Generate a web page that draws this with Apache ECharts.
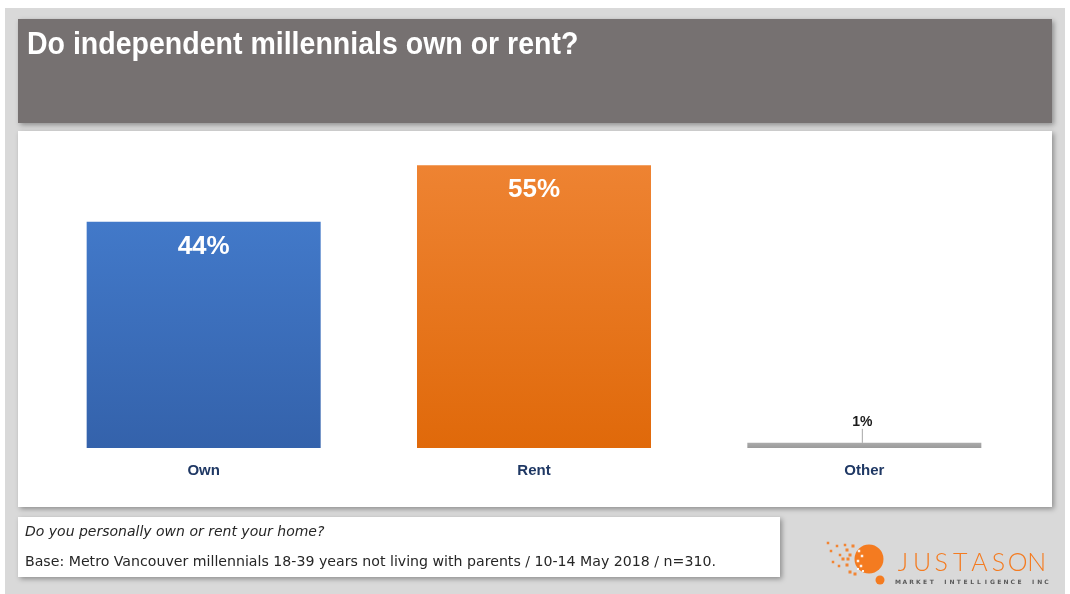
<!DOCTYPE html>
<html>
<head>
<meta charset="utf-8">
<script src="https://cdn.jsdelivr.net/npm/echarts@6/dist/echarts.min.js"></script>
<style>
  html, body { margin: 0; padding: 0; background: #ffffff; }
  #chart { width: 1070px; height: 594px; }
</style>
</head>
<body>
<div id="chart"></div>
<script>
// Survey results: share of independent millennials who own vs. rent
const categories = ['Own', 'Rent', 'Other'];
const shares = [44, 55, 1];
const valueLabels = ['44%', '55%', '1%'];

const titleText = 'Do independent millennials own or rent?';
const questionText = 'Do you personally own or rent your home?';
const baseText = 'Base: Metro Vancouver millennials 18-39 years not living with parents / 10-14 May 2018 / n=310.';
const brandName = 'JUSTASON';
const brandTagline = 'MARKET INTELLIGENCE INC';

const chart = echarts.init(document.getElementById('chart'), null, { renderer: 'canvas' });

const barFills = [
  new echarts.graphic.LinearGradient(0, 0, 0, 1, [
    { offset: 0, color: '#4279c9' }, { offset: 1, color: '#3462ab' }
  ]),
  new echarts.graphic.LinearGradient(0, 0, 0, 1, [
    { offset: 0, color: '#ee8332' }, { offset: 1, color: '#e0690a' }
  ]),
  new echarts.graphic.LinearGradient(0, 0, 0, 1, [
    { offset: 0, color: '#ababab' }, { offset: 1, color: '#9a9a9a' }
  ])
];

const panelShadow = {
  shadowBlur: 5,
  shadowOffsetX: 2,
  shadowOffsetY: 2,
  shadowColor: 'rgba(0,0,0,0.35)'
};

const brandOrange = '#f47b20';

// Logo pixel cloud dissolving into the disc: [x, y, size, colour]
const logoDots = [
  [828, 543, 2.5, brandOrange], [837, 546, 2.5, brandOrange], [845, 545, 2.5, brandOrange], [853, 546, 3, brandOrange],
  [831, 551, 2.5, brandOrange], [840, 555, 2.5, brandOrange], [847, 550, 3, brandOrange], [850, 555, 3, brandOrange],
  [833, 562, 2.5, brandOrange], [843, 559, 3, brandOrange], [848, 559, 3, brandOrange], [839, 566, 2.5, brandOrange],
  [847, 565, 3, brandOrange], [850, 572, 3, brandOrange], [855, 574, 3, brandOrange],
  // light squares cut into the disc edge
  [859, 551, 2.5, '#ffffff'], [862, 556, 2.5, '#ffffff'], [858, 561, 2.5, '#ffffff'],
  [861, 566, 2.5, '#ffffff'], [858, 569, 2, '#ffffff'], [863, 571, 2, '#ffffff']
];

const graphics = [
  // slide background
  { type: 'rect', z: -10, shape: { x: 5, y: 8, width: 1060, height: 590 }, style: { fill: '#d9d9d9' }, silent: true },
  // title banner
  { type: 'rect', z: -5, shape: { x: 18, y: 19, width: 1034, height: 104 }, style: Object.assign({ fill: '#767171' }, panelShadow), silent: true },
  { type: 'text', z: 5, x: 27, y: 30, scaleX: 0.92, style: { text: titleText, fill: '#ffffff', verticalAlign: 'top', font: 'bold 31px "Liberation Sans", Arial, sans-serif' } },
  // chart panel
  { type: 'rect', z: -5, shape: { x: 18, y: 131, width: 1034, height: 376 }, style: Object.assign({ fill: '#ffffff' }, panelShadow), silent: true },
  // footnote panel
  { type: 'rect', z: -5, shape: { x: 18, y: 517, width: 762, height: 60 }, style: Object.assign({ fill: '#ffffff' }, panelShadow), silent: true },
  { type: 'text', z: 5, x: 25, y: 532, style: { text: questionText, fill: '#262626', verticalAlign: 'middle', font: 'italic 14px "DejaVu Sans", sans-serif' } },
  { type: 'text', z: 5, x: 25, y: 562, style: { text: baseText, fill: '#262626', verticalAlign: 'middle', font: '14.15px "DejaVu Sans", sans-serif' } },
  // logo disc
  { type: 'circle', z: 4, shape: { cx: 869, cy: 559, r: 14.5 }, style: { fill: brandOrange } },
  { type: 'circle', z: 4, shape: { cx: 880, cy: 580, r: 4.5 }, style: { fill: brandOrange } }
];

logoDots.forEach(function (d) {
  graphics.push({ type: 'rect', z: 5, shape: { x: d[0] - d[2] / 2, y: d[1] - d[2] / 2, width: d[2], height: d[2] }, style: { fill: d[3], opacity: 0.9 } });
});

// wordmark, letter-spaced
brandName.split('').forEach(function (ch, i) {
  graphics.push({ type: 'text', z: 5, x: 903 + i * 19.1, y: 563, style: { text: ch, fill: brandOrange, align: 'center', verticalAlign: 'middle', font: '300 25px Lato, "Open Sans", sans-serif' } });
});
brandTagline.split('').forEach(function (ch, i) {
  graphics.push({ type: 'text', z: 5, x: 898 + i * 6.75, y: 582.5, style: { text: ch, fill: '#595959', align: 'center', verticalAlign: 'middle', font: 'bold 6px "DejaVu Sans", sans-serif' } });
});

const option = {
  animation: false,
  backgroundColor: '#ffffff',
  grid: { left: 38.5, right: 40.5, top: 139.6, bottom: 146, containLabel: false },
  xAxis: {
    type: 'category',
    data: categories,
    axisLine: { show: false },
    axisTick: { show: false },
    axisLabel: {
      margin: 15,
      color: '#1f3864',
      fontWeight: 'bold',
      fontSize: 15,
      fontFamily: '"Liberation Sans", Arial, sans-serif'
    }
  },
  yAxis: {
    type: 'value',
    min: 0,
    max: 60,
    show: false,
    splitLine: { show: false }
  },
  series: [{
    type: 'bar',
    barWidth: 234,
    data: shares.map(function (v, i) {
      const item = {
        value: v,
        itemStyle: { color: barFills[i] },
        label: {
          show: true,
          position: 'insideTop',
          distance: 12,
          formatter: valueLabels[i],
          color: '#ffffff',
          fontWeight: 'bold',
          fontSize: 26,
          fontFamily: '"Liberation Sans", Arial, sans-serif'
        }
      };
      if (i === 2) {
        item.label = {
          show: true,
          position: 'top',
          distance: 5,
          formatter: valueLabels[i],
          color: '#1a1a1a',
          fontWeight: 'bold',
          fontSize: 14,
          fontFamily: '"Liberation Sans", Arial, sans-serif'
        };
        item.labelLine = { show: true, lineStyle: { color: '#a6a6a6', width: 1 } };
      }
      return item;
    }),
    labelLayout: function (params) {
      if (params.dataIndex === 2) {
        return { dy: -9, dx: -2 };
      }
      return {};
    },
    labelLine: { show: false }
  }],
  graphic: graphics
};

chart.setOption(option);
</script>
</body>
</html>
